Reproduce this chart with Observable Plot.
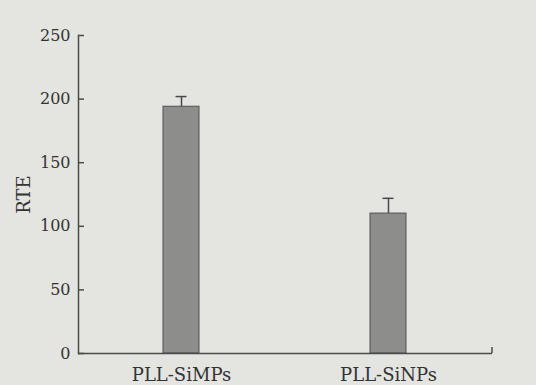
<!DOCTYPE html>
<html><head><meta charset="utf-8">
<script src="https://cdn.jsdelivr.net/npm/d3@7"></script>
<script src="https://cdn.jsdelivr.net/npm/@observablehq/plot@0.6"></script>
<style>
html,body{margin:0;padding:0;background:#e4e4e1;}
#chart{width:536px;height:385px;}
</style></head>
<body><div id="chart"></div>
<script>
const categories = ["PLL-SiMPs", "PLL-SiNPs"];
const values = [194, 110];
const errors = [8, 12];
const yTicks = [0, 50, 100, 150, 200, 250];
const yLabel = "RTE";

const data = categories.map((c, i) => ({name: c, value: values[i], err: errors[i]}));
const ink = "#4a4a4a";
const W = 536, H = 385, mL = 78, mR = 44, mT = 35, mB = 32;

const plot = Plot.plot({
  width: W, height: H,
  marginLeft: mL, marginRight: mR, marginTop: mT, marginBottom: mB,
  style: {background: "transparent", fontFamily: "DejaVu Serif", color: "#333"},
  x: {domain: categories, paddingInner: 0.826, paddingOuter: 0.413, align: 0.5},
  y: {domain: [0, 250]},
  marks: [
    Plot.barY(data, {x: "name", y: "value", fill: "#8d8d8b", stroke: "#505050", strokeWidth: 1}),
    Plot.ruleX(data, {x: "name", y1: "value", y2: d => d.value + d.err, stroke: ink, strokeWidth: 1.5}),
    Plot.tickY(data, {x: "name", y: d => d.value + d.err, stroke: ink, strokeWidth: 1.5, insetLeft: 12.5, insetRight: 12.5}),
    Plot.ruleY(yTicks, {y: d => d, stroke: ink, strokeWidth: 1.5, insetRight: W - mL - mR - 6}),
    Plot.ruleY([0], {stroke: ink, strokeWidth: 1.5}),
    Plot.frame({anchor: "left", stroke: ink, strokeWidth: 1.5}),
    Plot.axisY({ticks: yTicks, tickSize: 0, tickPadding: 8, fontSize: 16, label: null}),
    Plot.text([yLabel], {frameAnchor: "left", textAnchor: "middle", rotate: -90, dx: -54, fontSize: 18, fill: "#333", fontFamily: "DejaVu Serif"}),
    Plot.axisX({tickSize: 0, tickPadding: 15, fontSize: 18, label: null})
  ]
});
document.getElementById("chart").appendChild(plot);

// right-end upward tick of the x axis, placed from the scales
const xr = plot.scale("x").range;
const y0 = plot.scale("y").apply(0);
d3.select(plot).append("line")
  .attr("x1", xr[1]).attr("x2", xr[1]).attr("y1", y0).attr("y2", y0 - 6)
  .attr("stroke", ink).attr("stroke-width", 1.5);
</script>
</body></html>
